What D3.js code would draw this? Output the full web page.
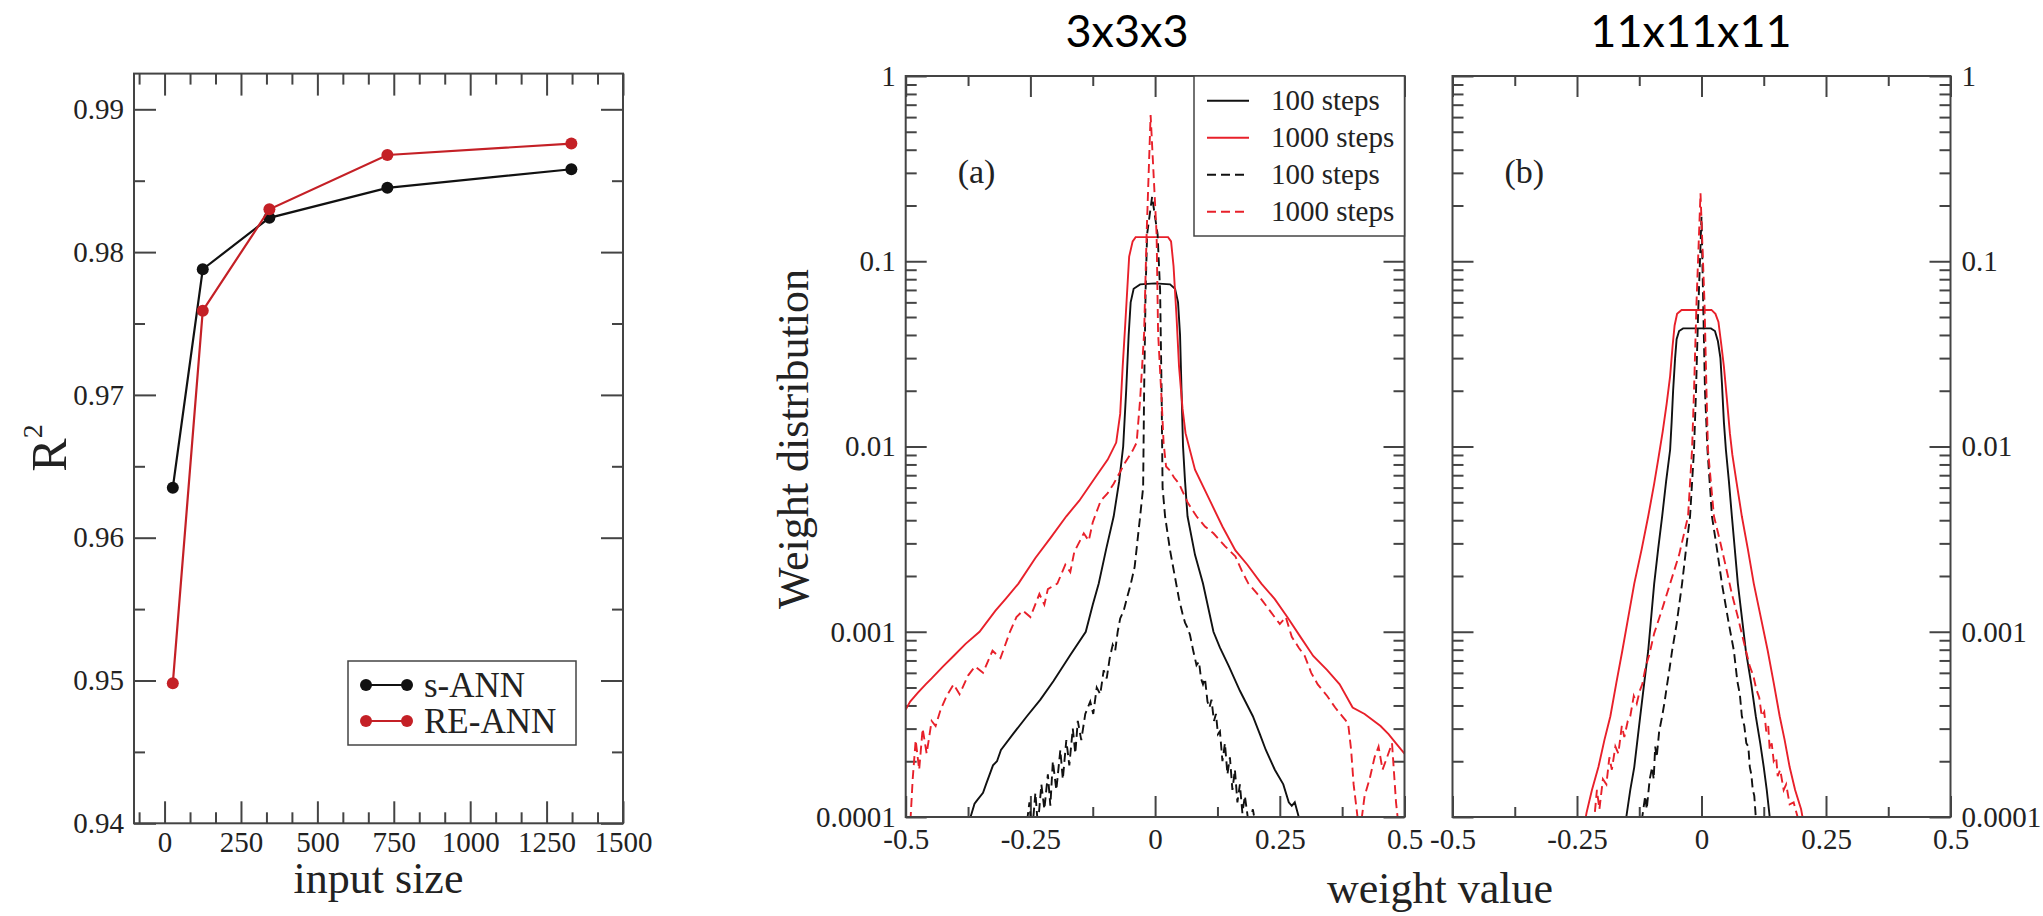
<!DOCTYPE html>
<html>
<head>
<meta charset="utf-8">
<script src="https://cdn.jsdelivr.net/npm/d3@7"></script>
<style>
  body { margin: 0; background: #fff; }
  svg { display: block; background: #fff; }
  text { font-family: "Liberation Serif", "DejaVu Serif", serif; fill: #222; }
  .title { font-family: Lato, "Open Sans", sans-serif; fill: #000; }
</style>
</head>
<body>
<svg width="2043" height="916"></svg>
<script>
// ---- left panel data: R^2 against input size
const inputSize = [27, 125, 343, 729, 1331];
const r2Sann = [0.9635, 0.9788, 0.9824, 0.9845, 0.9858];
const r2Reann = [0.9498, 0.9759, 0.9830, 0.9868, 0.9876];
const r2Names = ["s-ANN", "RE-ANN"];
const sizeTicks = [0, 250, 500, 750, 1000, 1250, 1500];
const r2Ticks = [0.94, 0.95, 0.96, 0.97, 0.98, 0.99];

// ---- right panels: weight distribution, points are [weight value, distribution]
const weightTicks = [-0.5, -0.25, 0, 0.25, 0.5];
const weightTickLabels = ["-0.5", "-0.25", "0", "0.25", "0.5"];
const distTicks = [1, 0.1, 0.01, 0.001, 0.0001];
const distTickLabels = ["1", "0.1", "0.01", "0.001", "0.0001"];
const legendNames = ["100 steps", "1000 steps", "100 steps", "1000 steps"];
const panelTitles = ["3x3x3", "11x11x11"];
const panelTags = ["(a)", "(b)"];

// panel (a) 3x3x3
const a100 = [[-0.375,0.00009],[-0.37,0.0001],[-0.362,0.000118],[-0.357,0.000123],[-0.345,0.000135],[-0.339,0.00015],[-0.325,0.00019],[-0.317,0.0002],[-0.309,0.00023],[-0.285,0.00028],[-0.257,0.00035],[-0.23,0.00043],[-0.204,0.00054],[-0.17,0.00075],[-0.139,0.001],[-0.125,0.0014],[-0.113,0.00182],[-0.098,0.0028],[-0.083,0.0042],[-0.072,0.0065],[-0.064,0.01],[-0.058,0.02],[-0.053,0.04],[-0.049,0.06],[-0.043,0.071],[-0.03,0.075],[0,0.076],[0.03,0.075],[0.04,0.071],[0.046,0.06],[0.05,0.04],[0.053,0.02],[0.056,0.01],[0.06,0.0065],[0.065,0.0042],[0.08,0.0026],[0.096,0.00182],[0.117,0.001],[0.13,0.00082],[0.148,0.00065],[0.17,0.00048],[0.196,0.00035],[0.21,0.00028],[0.222,0.00023],[0.24,0.00018],[0.257,0.00015],[0.268,0.00012],[0.274,0.000115],[0.28,0.00012],[0.288,0.0001],[0.295,0.000085]];
const a1000 = [[-0.5,0.00038],[-0.491,0.00042],[-0.475,0.00047],[-0.46,0.00052],[-0.448,0.00056],[-0.425,0.00065],[-0.404,0.00074],[-0.38,0.00086],[-0.352,0.001],[-0.32,0.0013],[-0.3,0.0015],[-0.274,0.00182],[-0.24,0.0025],[-0.21,0.0032],[-0.178,0.0042],[-0.152,0.0051],[-0.12,0.0068],[-0.095,0.0085],[-0.078,0.0105],[-0.07,0.015],[-0.065,0.027],[-0.06,0.045],[-0.057,0.062],[-0.052,0.106],[-0.045,0.128],[-0.039,0.135],[0.026,0.135],[0.032,0.128],[0.037,0.094],[0.043,0.05],[0.048,0.027],[0.055,0.016],[0.061,0.0118],[0.08,0.0075],[0.11,0.0051],[0.135,0.0037],[0.161,0.00275],[0.185,0.0023],[0.213,0.00182],[0.24,0.0015],[0.265,0.0012],[0.29,0.00095],[0.317,0.00074],[0.345,0.00062],[0.37,0.00052],[0.396,0.00039],[0.42,0.00036],[0.452,0.00031],[0.468,0.00028],[0.483,0.00025],[0.5,0.00022]];
const a100d = [[-0.26,0.00008],[-0.252,0.00012],[-0.247,0.00008],[-0.24,0.000135],[-0.235,0.00009],[-0.228,0.00015],[-0.222,0.00011],[-0.215,0.00017],[-0.21,0.000115],[-0.205,0.0002],[-0.198,0.00014],[-0.19,0.00023],[-0.185,0.00016],[-0.178,0.00026],[-0.172,0.00019],[-0.165,0.0003],[-0.16,0.00022],[-0.155,0.00033],[-0.148,0.00026],[-0.14,0.00036],[-0.13,0.00042],[-0.124,0.00036],[-0.117,0.0005],[-0.11,0.00046],[-0.103,0.00062],[-0.097,0.00056],[-0.091,0.00072],[-0.085,0.00085],[-0.08,0.00079],[-0.075,0.001],[-0.07,0.00118],[-0.063,0.0013],[-0.057,0.0015],[-0.049,0.0018],[-0.041,0.00224],[-0.03,0.0042],[-0.024,0.006],[-0.022,0.02],[-0.019,0.07],[-0.016,0.14],[-0.006,0.223],[0.005,0.14],[0.01,0.07],[0.013,0.02],[0.015,0.006],[0.02,0.0042],[0.03,0.00275],[0.048,0.0015],[0.055,0.00125],[0.06,0.00112],[0.065,0.00105],[0.07,0.00096],[0.076,0.0008],[0.083,0.00066],[0.088,0.00069],[0.092,0.00056],[0.096,0.00052],[0.1,0.00056],[0.105,0.00042],[0.109,0.00039],[0.113,0.00043],[0.118,0.00033],[0.122,0.00036],[0.126,0.00028],[0.13,0.00029],[0.135,0.0002],[0.14,0.00025],[0.145,0.00017],[0.15,0.00021],[0.155,0.00014],[0.16,0.00018],[0.165,0.00012],[0.17,0.00015],[0.175,0.000105],[0.18,0.00013],[0.188,0.00009],[0.196,0.00011],[0.205,0.00008]];
const a1000d = [[-0.492,0.00008],[-0.486,0.00016],[-0.48,0.00026],[-0.473,0.00018],[-0.466,0.0003],[-0.458,0.00022],[-0.448,0.00033],[-0.44,0.00031],[-0.43,0.00038],[-0.418,0.00045],[-0.404,0.00052],[-0.392,0.00046],[-0.375,0.00058],[-0.361,0.00065],[-0.345,0.0006],[-0.326,0.00079],[-0.31,0.00072],[-0.291,0.001],[-0.278,0.0012],[-0.265,0.0013],[-0.25,0.0012],[-0.232,0.0016],[-0.222,0.0014],[-0.215,0.0017],[-0.196,0.00182],[-0.18,0.0023],[-0.17,0.0021],[-0.162,0.0027],[-0.143,0.0034],[-0.133,0.0031],[-0.125,0.0039],[-0.109,0.0051],[-0.095,0.0056],[-0.083,0.0063],[-0.06,0.0082],[-0.045,0.0095],[-0.037,0.0105],[-0.03,0.018],[-0.022,0.041],[-0.017,0.14],[-0.009,0.615],[0.003,0.14],[0.006,0.041],[0.013,0.018],[0.017,0.0105],[0.022,0.0078],[0.03,0.0074],[0.038,0.0068],[0.048,0.0063],[0.065,0.005],[0.083,0.0042],[0.1,0.0037],[0.117,0.0034],[0.14,0.0029],[0.161,0.00255],[0.175,0.0021],[0.187,0.00182],[0.205,0.0016],[0.23,0.0013],[0.25,0.0011],[0.262,0.0012],[0.274,0.00094],[0.288,0.00082],[0.3,0.00074],[0.313,0.0006],[0.326,0.00052],[0.345,0.00045],[0.361,0.00039],[0.375,0.00035],[0.387,0.00032],[0.393,0.00023],[0.398,0.00015],[0.404,0.00011],[0.41,0.00008],[0.42,0.00013],[0.43,0.00016],[0.44,0.00021],[0.448,0.00024],[0.456,0.00018],[0.465,0.00021],[0.475,0.00025],[0.483,0.00012],[0.49,0.00008]];

// panel (b) 11x11x11
const b100 = [[-0.155,0.00008],[-0.151,0.0001],[-0.143,0.00014],[-0.135,0.000186],[-0.123,0.00035],[-0.115,0.00053],[-0.107,0.00079],[-0.095,0.00182],[-0.087,0.0028],[-0.079,0.0042],[-0.071,0.0065],[-0.063,0.0096],[-0.06,0.0135],[-0.057,0.02],[-0.053,0.03],[-0.05,0.038],[-0.045,0.042],[-0.037,0.0434],[0.019,0.0434],[0.027,0.042],[0.033,0.037],[0.038,0.03],[0.041,0.022],[0.045,0.0135],[0.049,0.0096],[0.055,0.0065],[0.061,0.0042],[0.073,0.00182],[0.081,0.0012],[0.089,0.00079],[0.1,0.00052],[0.109,0.00035],[0.118,0.00025],[0.125,0.000186],[0.131,0.00014],[0.137,0.0001],[0.141,0.00008]];
const b1000 = [[-0.235,0.00009],[-0.231,0.000105],[-0.22,0.00014],[-0.207,0.000186],[-0.195,0.00026],[-0.183,0.00035],[-0.171,0.00053],[-0.159,0.00079],[-0.147,0.0012],[-0.135,0.00182],[-0.12,0.0028],[-0.107,0.0042],[-0.095,0.0063],[-0.087,0.0085],[-0.078,0.012],[-0.07,0.017],[-0.063,0.024],[-0.058,0.035],[-0.054,0.045],[-0.049,0.052],[-0.04,0.0546],[0.02,0.0546],[0.028,0.052],[0.034,0.047],[0.04,0.035],[0.045,0.027],[0.051,0.018],[0.057,0.0118],[0.062,0.009],[0.07,0.0065],[0.081,0.0042],[0.093,0.0028],[0.105,0.00182],[0.119,0.0012],[0.133,0.00079],[0.145,0.00053],[0.157,0.00035],[0.167,0.00026],[0.177,0.000186],[0.188,0.00014],[0.2,0.00011],[0.206,0.00009]];
const b100d = [[-0.122,0.00008],[-0.119,0.0001],[-0.113,0.00013],[-0.11,0.00011],[-0.104,0.00016],[-0.099,0.000186],[-0.096,0.00016],[-0.093,0.00024],[-0.09,0.00021],[-0.085,0.00029],[-0.079,0.00035],[-0.074,0.00042],[-0.07,0.0005],[-0.065,0.00061],[-0.059,0.00079],[-0.05,0.0011],[-0.039,0.00182],[-0.031,0.0028],[-0.023,0.0042],[-0.015,0.0096],[-0.011,0.02],[-0.007,0.05],[0,0.174],[0.004,0.05],[0.007,0.02],[0.012,0.0096],[0.021,0.0042],[0.031,0.0028],[0.041,0.00182],[0.055,0.0011],[0.065,0.00079],[0.072,0.00054],[0.077,0.00046],[0.081,0.00035],[0.086,0.00031],[0.09,0.00025],[0.094,0.00024],[0.097,0.000186],[0.1,0.00017],[0.103,0.00014],[0.106,0.00013],[0.109,0.0001],[0.112,0.00008]];
const b1000d = [[-0.22,0.00009],[-0.215,0.0001],[-0.21,0.00014],[-0.205,0.00011],[-0.198,0.00016],[-0.191,0.00015],[-0.185,0.00021],[-0.18,0.00018],[-0.173,0.00024],[-0.167,0.00022],[-0.16,0.00031],[-0.155,0.00027],[-0.148,0.00033],[-0.143,0.00035],[-0.136,0.00045],[-0.13,0.00041],[-0.124,0.00048],[-0.119,0.00052],[-0.112,0.00065],[-0.105,0.00075],[-0.095,0.00098],[-0.08,0.0013],[-0.063,0.00182],[-0.045,0.0026],[-0.027,0.0042],[-0.019,0.0096],[-0.015,0.02],[-0.01,0.06],[-0.002,0.233],[0.006,0.06],[0.01,0.02],[0.013,0.0096],[0.025,0.0042],[0.037,0.0031],[0.049,0.00224],[0.061,0.0016],[0.073,0.0012],[0.085,0.00088],[0.097,0.00065],[0.104,0.00058],[0.11,0.00049],[0.116,0.00044],[0.121,0.00035],[0.126,0.00037],[0.13,0.00029],[0.134,0.00031],[0.137,0.00023],[0.141,0.00025],[0.145,0.0002],[0.15,0.00021],[0.153,0.000166],[0.158,0.00018],[0.165,0.00014],[0.17,0.00015],[0.177,0.000117],[0.185,0.00012],[0.193,0.0001],[0.2,0.00008]];

const black = "#111";
const redL = "#c42026";
const red = "#e8202a";
const frameColor = "#444";

const svg = d3.select("svg");

function addAxis(g, make, scale, transform, values, size, format, padding) {
    const axis = make(scale)
        .tickValues(values)
        .tickSize(-size)
        .tickPadding(padding || 0)
        .tickFormat(format || "");
    const a = g.append("g")
        .attr("transform", transform)
        .call(axis);
    a.attr("font-family", null).attr("font-size", 29);
    a.select(".domain").remove();
    a.selectAll("line").attr("stroke", frameColor).attr("stroke-width", 2);
    a.selectAll("text").attr("fill", "#222");
    return a;
}

// ================= left panel =================
const xL = d3.scaleLinear().domain([-100, 1500]).range([134, 623]);
const yL = d3.scaleLinear().domain([0.94, 0.9925]).range([823.3, 73.6]);
const gL = svg.append("g");

const sizeMinor = d3.range(-250 / 3, 1500, 250 / 3).filter(v => Math.abs(v / 250 - Math.round(v / 250)) > 0.01);
const r2Minor = d3.range(0.945, 0.99, 0.01);
const [xl0, xl1] = xL.range(), [yl0, yl1] = yL.range();

addAxis(gL, d3.axisBottom, xL, `translate(0,${yl0})`, sizeTicks, 22, d => d, 8);
addAxis(gL, d3.axisBottom, xL, `translate(0,${yl0})`, sizeMinor, 11);
addAxis(gL, d3.axisTop, xL, `translate(0,${yl1})`, sizeTicks, 22);
addAxis(gL, d3.axisTop, xL, `translate(0,${yl1})`, sizeMinor, 11);
addAxis(gL, d3.axisLeft, yL, `translate(${xl0},0)`, r2Ticks, 22, d3.format(".2f"), 10);
addAxis(gL, d3.axisLeft, yL, `translate(${xl0},0)`, r2Minor, 11);
addAxis(gL, d3.axisRight, yL, `translate(${xl1},0)`, r2Ticks, 22);
addAxis(gL, d3.axisRight, yL, `translate(${xl1},0)`, r2Minor, 11);

gL.append("rect")
    .attr("x", xl0).attr("y", yl1)
    .attr("width", xl1 - xl0).attr("height", yl0 - yl1)
    .attr("fill", "none").attr("stroke", frameColor).attr("stroke-width", 2);

const r2Series = [
    { name: r2Names[0], values: r2Sann, color: black },
    { name: r2Names[1], values: r2Reann, color: redL }
];
const lineL = d3.line().x(d => xL(d[0])).y(d => yL(d[1]));

r2Series.forEach(s => {
    const pts = inputSize.map((v, i) => [v, s.values[i]]);
    gL.append("path")
        .attr("d", lineL(pts))
        .attr("fill", "none").attr("stroke", s.color).attr("stroke-width", 2.2);
    gL.selectAll(null).data(pts).enter().append("circle")
        .attr("cx", d => xL(d[0])).attr("cy", d => yL(d[1]))
        .attr("r", 6).attr("fill", s.color);
});

// legend of left panel
const legL = gL.append("g");
legL.append("rect")
    .attr("x", 348).attr("y", 661).attr("width", 228).attr("height", 84)
    .attr("fill", "#fff").attr("stroke", frameColor).attr("stroke-width", 1.5);
r2Series.forEach((s, i) => {
    const yy = 685 + i * 36;
    legL.append("line").attr("x1", 366).attr("x2", 407).attr("y1", yy).attr("y2", yy)
        .attr("stroke", s.color).attr("stroke-width", 2.2);
    [366, 407].forEach(cx => legL.append("circle").attr("cx", cx).attr("cy", yy).attr("r", 6).attr("fill", s.color));
    legL.append("text").attr("x", 424).attr("y", yy).attr("dy", "0.35em")
        .attr("font-size", 35).text(s.name);
});

gL.append("text")
    .attr("x", (xl0 + xl1) / 2).attr("y", 893)
    .attr("text-anchor", "middle").attr("font-size", 44)
    .text("input size");

const r2Label = gL.append("text")
    .attr("transform", "translate(66,448) rotate(-90)")
    .attr("text-anchor", "middle").attr("font-size", 50);
r2Label.append("tspan").text("R");
r2Label.append("tspan").attr("font-size", 28).attr("dy", -24).text("2");

// ================= right panels =================
const panels = [
    { x0: 905.7, x1: 1404.5, title: panelTitles[0], tag: panelTags[0], series: [a100, a1000, a100d, a1000d], labelSide: "left" },
    { x0: 1452.5, x1: 1950.5, title: panelTitles[1], tag: panelTags[1], series: [b100, b1000, b100d, b1000d], labelSide: "right" }
];
const seriesStyle = [
    { color: black, dash: null },
    { color: red, dash: null },
    { color: black, dash: "9,5" },
    { color: red, dash: "9,5" }
];
const weightMinor = [-0.375, -0.125, 0.125, 0.375];

panels.forEach((p, pi) => {
    const g = svg.append("g");
    const x = d3.scaleLinear().domain([-0.5, 0.5]).range([p.x0, p.x1]);
    const y = d3.scaleLog().domain([0.0001, 1]).range([817, 76]);
    const yMinor = y.ticks().filter(v => Math.abs(Math.log10(v) - Math.round(Math.log10(v))) > 1e-6);
    const [ya, yb] = y.range();

    const fmtW = d => weightTickLabels[weightTicks.indexOf(d)];
    const fmtD = d => distTickLabels[distTicks.indexOf(d)];

    addAxis(g, d3.axisBottom, x, `translate(0,${ya})`, weightTicks, 21, fmtW, 11);
    addAxis(g, d3.axisBottom, x, `translate(0,${ya})`, weightMinor, 10);
    addAxis(g, d3.axisTop, x, `translate(0,${yb})`, weightTicks, 21);
    addAxis(g, d3.axisTop, x, `translate(0,${yb})`, weightMinor, 10);
    addAxis(g, d3.axisLeft, y, `translate(${p.x0},0)`, distTicks, 21, p.labelSide === "left" ? fmtD : "", 10);
    addAxis(g, d3.axisLeft, y, `translate(${p.x0},0)`, yMinor, 11);
    addAxis(g, d3.axisRight, y, `translate(${p.x1},0)`, distTicks, 21, p.labelSide === "right" ? fmtD : "", 11);
    addAxis(g, d3.axisRight, y, `translate(${p.x1},0)`, yMinor, 11);

    const clipId = "clip" + pi;
    g.append("clipPath").attr("id", clipId).append("rect")
        .attr("x", p.x0).attr("y", yb).attr("width", p.x1 - p.x0).attr("height", ya - yb);

    const line = d3.line().x(d => x(d[0])).y(d => y(d[1]));
    const curves = g.append("g").attr("clip-path", `url(#${clipId})`);
    p.series.forEach((s, i) => {
        curves.append("path")
            .attr("d", line(s))
            .attr("fill", "none")
            .attr("stroke", seriesStyle[i].color)
            .attr("stroke-width", 1.9)
            .attr("stroke-dasharray", seriesStyle[i].dash);
    });

    g.append("rect")
        .attr("x", p.x0).attr("y", yb)
        .attr("width", p.x1 - p.x0).attr("height", ya - yb)
        .attr("fill", "none").attr("stroke", frameColor).attr("stroke-width", 2);

    g.append("text")
        .attr("x", p.x0 + 52).attr("y", 183)
        .attr("font-size", 34).text(p.tag);

    g.append("text").attr("class", "title")
        .attr("x", pi === 0 ? 1127 : 1691).attr("y", 47)
        .attr("text-anchor", "middle").attr("font-size", 45)
        .text(p.title);

    if (pi === 0) {
        const leg = g.append("g");
        leg.append("rect")
            .attr("x", 1194).attr("y", 76).attr("width", p.x1 - 1194).attr("height", 160)
            .attr("fill", "#fff").attr("stroke", frameColor).attr("stroke-width", 1.5);
        legendNames.forEach((name, i) => {
            const yy = 100.7 + i * 37;
            leg.append("line").attr("x1", 1207).attr("x2", 1249).attr("y1", yy).attr("y2", yy)
                .attr("stroke", seriesStyle[i].color).attr("stroke-width", 1.9)
                .attr("stroke-dasharray", seriesStyle[i].dash);
            leg.append("text").attr("x", 1271).attr("y", yy).attr("dy", "0.33em")
                .attr("font-size", 29).text(name);
        });
    }
});

svg.append("text")
    .attr("x", 1440).attr("y", 903)
    .attr("text-anchor", "middle").attr("font-size", 44)
    .text("weight value");

svg.append("text")
    .attr("transform", "translate(808,439) rotate(-90)")
    .attr("text-anchor", "middle").attr("font-size", 44)
    .text("Weight distribution");
</script>
</body>
</html>
